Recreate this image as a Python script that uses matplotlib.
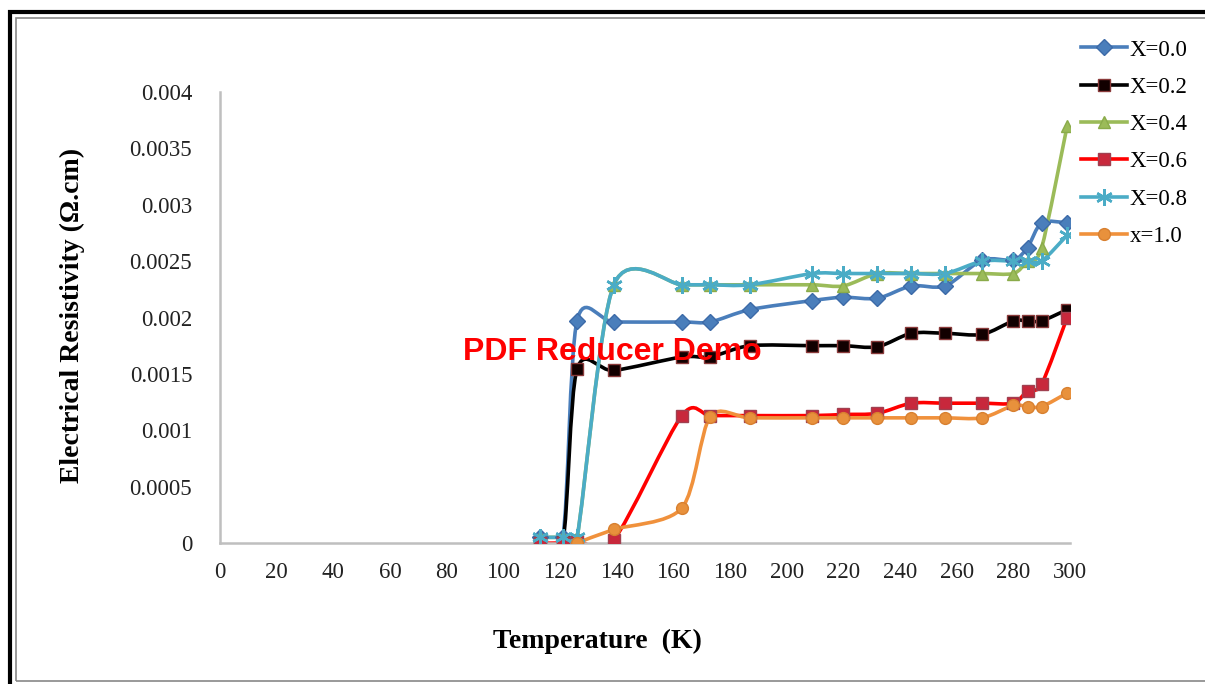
import matplotlib
matplotlib.use('Agg')
import matplotlib.pyplot as plt
import numpy as np
from matplotlib.path import Path
from matplotlib.patches import PathPatch, Rectangle
from matplotlib.lines import Line2D
from matplotlib.ticker import FuncFormatter

# temperatures (K)
temp = [113, 121, 126, 139, 163, 173, 187, 209, 220, 232, 244, 256, 269, 280, 285, 290, 299]

x00 = [0.00005, 0.00005, 0.00197, 0.00196, 0.00196, 0.00196, 0.00207, 0.00215, 0.00218, 0.00217,
       0.00228, 0.00228, 0.00251, 0.00251, 0.00262, 0.00284, 0.00284]
x02 = [0.0, 0.00001, 0.00154, 0.00153, 0.00165, 0.00165, 0.00175, 0.00175, 0.00175, 0.00174,
       0.00186, 0.00186, 0.00185, 0.00197, 0.00197, 0.00197, 0.00207]
x04 = [0.00005, 0.00005, 0.00005, 0.00229, 0.00229, 0.00229, 0.00229, 0.00229, 0.00228, 0.00239,
       0.00239, 0.00239, 0.00239, 0.00239, 0.00250, 0.00262, 0.00370]
x06 = [0.0, 0.0, 0.00002, 0.00003, 0.00113, 0.00113, 0.00113, 0.00113, 0.00114, 0.00115,
       0.00124, 0.00124, 0.00124, 0.00124, 0.00135, 0.00141, 0.00200]
x08 = [0.00005, 0.00005, 0.00005, 0.00229, 0.00229, 0.00229, 0.00229, 0.00239, 0.00239, 0.00239,
       0.00239, 0.00239, 0.00250, 0.00250, 0.00250, 0.00250, 0.00273]
temp10 = temp[2:]
x10 = [0.0, 0.00012, 0.00031, 0.00112, 0.00111, 0.00111, 0.00111, 0.00111, 0.00111, 0.00111,
       0.00111, 0.00122, 0.00121, 0.00121, 0.00133]

labels = ['X=0.0', 'X=0.2', 'X=0.4', 'X=0.6', 'X=0.8', 'x=1.0']
serif = 'Liberation Serif'


def smooth_path(xs, ys, k=7.0):
    # excel style smoothed line: cubic bezier through the points
    p = np.column_stack([xs, ys])
    n = len(p)
    verts = [p[0]]
    codes = [Path.MOVETO]
    for i in range(n - 1):
        p0 = p[i - 1] if i > 0 else p[i]
        p3 = p[i + 2] if i + 2 < n else p[i + 1]
        c1 = p[i] + (p[i + 1] - p0) / k
        c2 = p[i + 1] - (p3 - p[i]) / k
        verts += [c1, c2, p[i + 1]]
        codes += [Path.CURVE4] * 3
    return Path(verts, codes)


fig = plt.figure(figsize=(12.05, 6.84), dpi=100)

# page frame
fig.patches.append(Rectangle((10 / 1205, -0.02), 1.1, 1 - 12 / 684 + 0.02, transform=fig.transFigure,
                             fill=False, lw=3, ec='black', zorder=0))
fig.patches.append(Rectangle((16 / 1205, 3 / 684), 1.1, 1 - 21 / 684, transform=fig.transFigure,
                             fill=False, lw=1.2, ec='#888888', zorder=0))

ax = fig.add_axes([220 / 1205, 1 - 543 / 684, 850 / 1205, 451 / 684])

series = [
    (temp, x00, '#4a7ebb', dict(marker='D', ms=8, mfc='#4a7ebb', mec='#3c6aa8')),
    (temp, x02, '#000000', dict(marker='s', ms=8.5, mfc='#120000', mec='#8a3a3a')),
    (temp, x04, '#9bbb59', dict(marker='^', ms=8, mfc='#9bbb59', mec='#8aab4a')),
    (temp, x06, '#ff0000', dict(marker='s', ms=8.5, mfc='#c8283c', mec='#a04050')),
    (temp, x08, '#4bacc6', dict(marker=(6, 2, 0), ms=12, mfc='#4bacc6', mec='#4bacc6', mew=1.8)),
    (temp10, x10, '#f0913c', dict(marker='o', ms=8.5, mfc='#e8913c', mec='#d88030')),
]

handles = []
for i, (xs, ys, col, mk) in enumerate(series):
    ax.add_patch(PathPatch(smooth_path(xs, ys), fill=False, ec=col, lw=2.6, zorder=2 + i * 0.1))
    ax.plot(xs, ys, ls='none', zorder=3 + i * 0.1, **mk)
    handles.append(Line2D([], [], color=col, lw=2.6, **mk))

ax.set_xlim(0, 300)
ax.set_ylim(0, 0.004)
ax.set_xticks(np.arange(0, 301, 20))
ax.set_yticks(np.arange(0, 0.00401, 0.0005))
ax.yaxis.set_major_formatter(FuncFormatter(lambda v, p: '%g' % round(v, 5)))
ax.tick_params(length=0, labelsize=16.5, labelcolor='#222222')
ax.tick_params(axis='y', pad=20)
ax.tick_params(axis='x', pad=14)
for t in ax.get_xticklabels() + ax.get_yticklabels():
    t.set_family(serif)
for s in ['top', 'right']:
    ax.spines[s].set_visible(False)
for s in ['left', 'bottom']:
    ax.spines[s].set_color('#bfbfbf')
    ax.spines[s].set_linewidth(1.8)

fig.text(72 / 1205, 1 - 315 / 684, 'Electrical Resistivity (\u03a9.cm)', rotation=90, ha='center', va='center',
         family=serif, fontsize=20, fontweight='bold')
fig.text(597 / 1205, 1 - 641 / 684, 'Temperature  (K)', ha='center', va='center',
         family=serif, fontsize=20, fontweight='bold')

leg = fig.legend(handles, labels, loc='upper left', bbox_to_anchor=(1070 / 1205, 1 - 28 / 684),
                 frameon=False, prop={'family': serif, 'size': 16.5}, handlelength=2.0,
                 handletextpad=0.1, labelspacing=0.71, borderpad=0)

fig.text(612 / 1205, 1 - 352 / 684, 'PDF Reducer Demo', ha='center', va='center', color='#ff0000',
         family='Liberation Sans', fontsize=23, fontweight='bold', zorder=10)

fig.savefig('out.png', dpi=100)
